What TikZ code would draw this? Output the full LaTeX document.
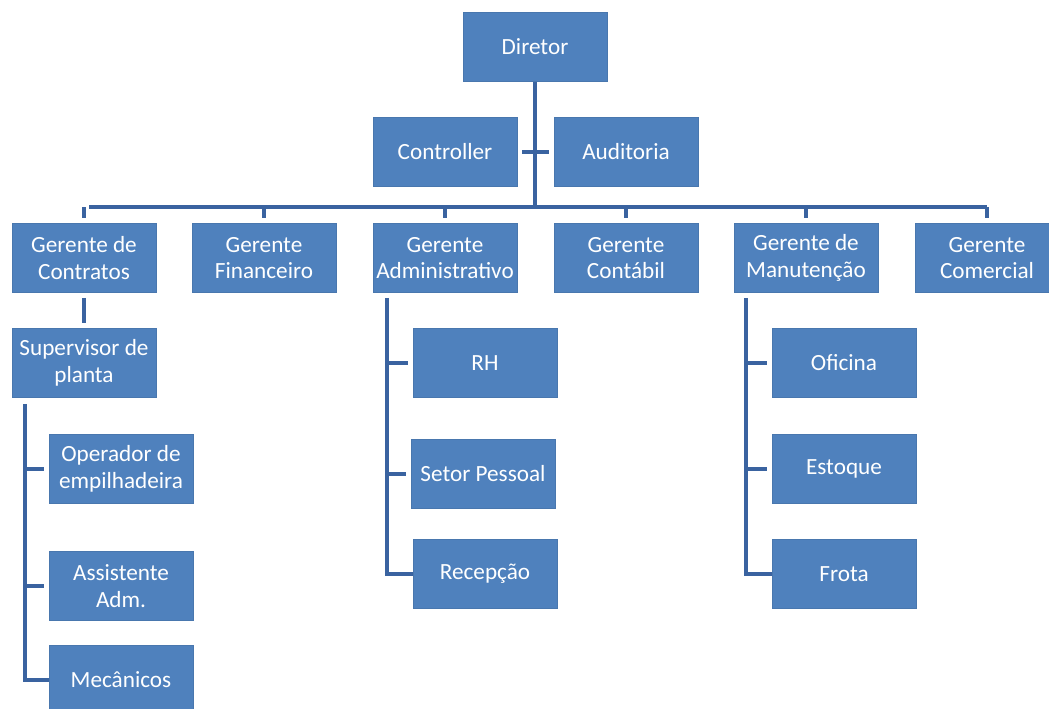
\documentclass[tikz,border=0pt]{standalone}
\usepackage{fontspec}
\setmainfont{Carlito}
\usepackage{xcolor}
\usepackage{tikz}
\usetikzlibrary{positioning, calc}

\definecolor{boxblue}{HTML}{4F81BD}
\definecolor{lineblue}{HTML}{3A63A0}

\begin{document}
\begin{tikzpicture}[
                x=0.5pt, y=-0.5pt,
                unit/.style={rectangle, fill=boxblue, draw=boxblue!92!black, line width=0.4pt,
                    minimum width=72pt, minimum height=34.5pt, inner sep=0pt,
                    align=center, text=white, font=\fontsize{11.6}{13.4}\selectfont},
                link/.style={draw=lineblue, line width=2pt},
                gap/.style={shorten <=2.5pt, shorten >=2.5pt}
            ]
                \useasboundingbox (0,0) rectangle (1049,708);
                \clip (0,0) rectangle (1049,708);

                % Nodes
                \node[unit] (dir) at (535,47) {Diretor};
                \node[unit] (ctrl) at (445,152) {Controller};
                \node[unit] (aud) at (626,152) {Auditoria};

                \node[unit] (contr) at (84,258) {Gerente de\\Contratos};
                \node[unit] (fin) at (264,258) {Gerente\\Financeiro};
                \node[unit] (adm) at (445,258) {Gerente\\Administrativo};
                \node[unit] (cont) at (626,258) {Gerente\\Contábil};
                \node[unit] (manut) at (806,258) {Gerente de\\Manutenção};
                \node[unit] (com) at (987,258) {Gerente\\Comercial};

                \node[unit] (sup) at (84,363) {Supervisor de\\planta};
                \node[unit] (oper) at (121,469) {Operador de\\empilhadeira};
                \node[unit] (assist) at (121,586) {Assistente\\Adm.};
                \node[unit] (mec) at (121,680) {Mecânicos};

                \node[unit] (rh) at (485,363) {RH};
                \node[unit] (pessoal) at (483,474) {Setor Pessoal};
                \node[unit] (recep) at (485,574) {Recepção};

                \node[unit] (ofic) at (844,363) {Oficina};
                \node[unit] (estq) at (844,469) {Estoque};
                \node[unit] (frota) at (844,574) {Frota};

                % Edges
                \coordinate (bus) at (535,207);
                \path[link]
                    (dir.south) [shorten <=2.5pt] -- (bus)
                    (contr.north |- bus) -- (com.north |- bus);
                \draw[link, gap] (ctrl.east) -- (aud.west);
                \foreach \g in {contr, fin, adm, cont, manut, com}
                    \draw[link, shorten >=2.5pt] (\g.north |- bus) -- (\g.north);
                \draw[link, gap] (contr.south) -- (sup.north);

                \coordinate (supL) at ([xshift=-29.5pt]sup.south);
                \coordinate (admL) at ([xshift=-29pt]adm.south);
                \coordinate (manL) at ([xshift=-30pt]manut.south);
                \draw[link, shorten <=3pt] (supL) |- (mec.west);
                \draw[link, shorten <=2.5pt] (admL) |- (recep.west);
                \draw[link, shorten <=2.5pt] (manL) |- (frota.west);
                \foreach \k/\b in {oper/supL, assist/supL, mec/supL, rh/admL, pessoal/admL, recep/admL, ofic/manL, estq/manL, frota/manL}
                    \draw[link, shorten >=2.5pt] (\b |- \k.west) -- (\k.west);
            \end{tikzpicture}
\end{document}
